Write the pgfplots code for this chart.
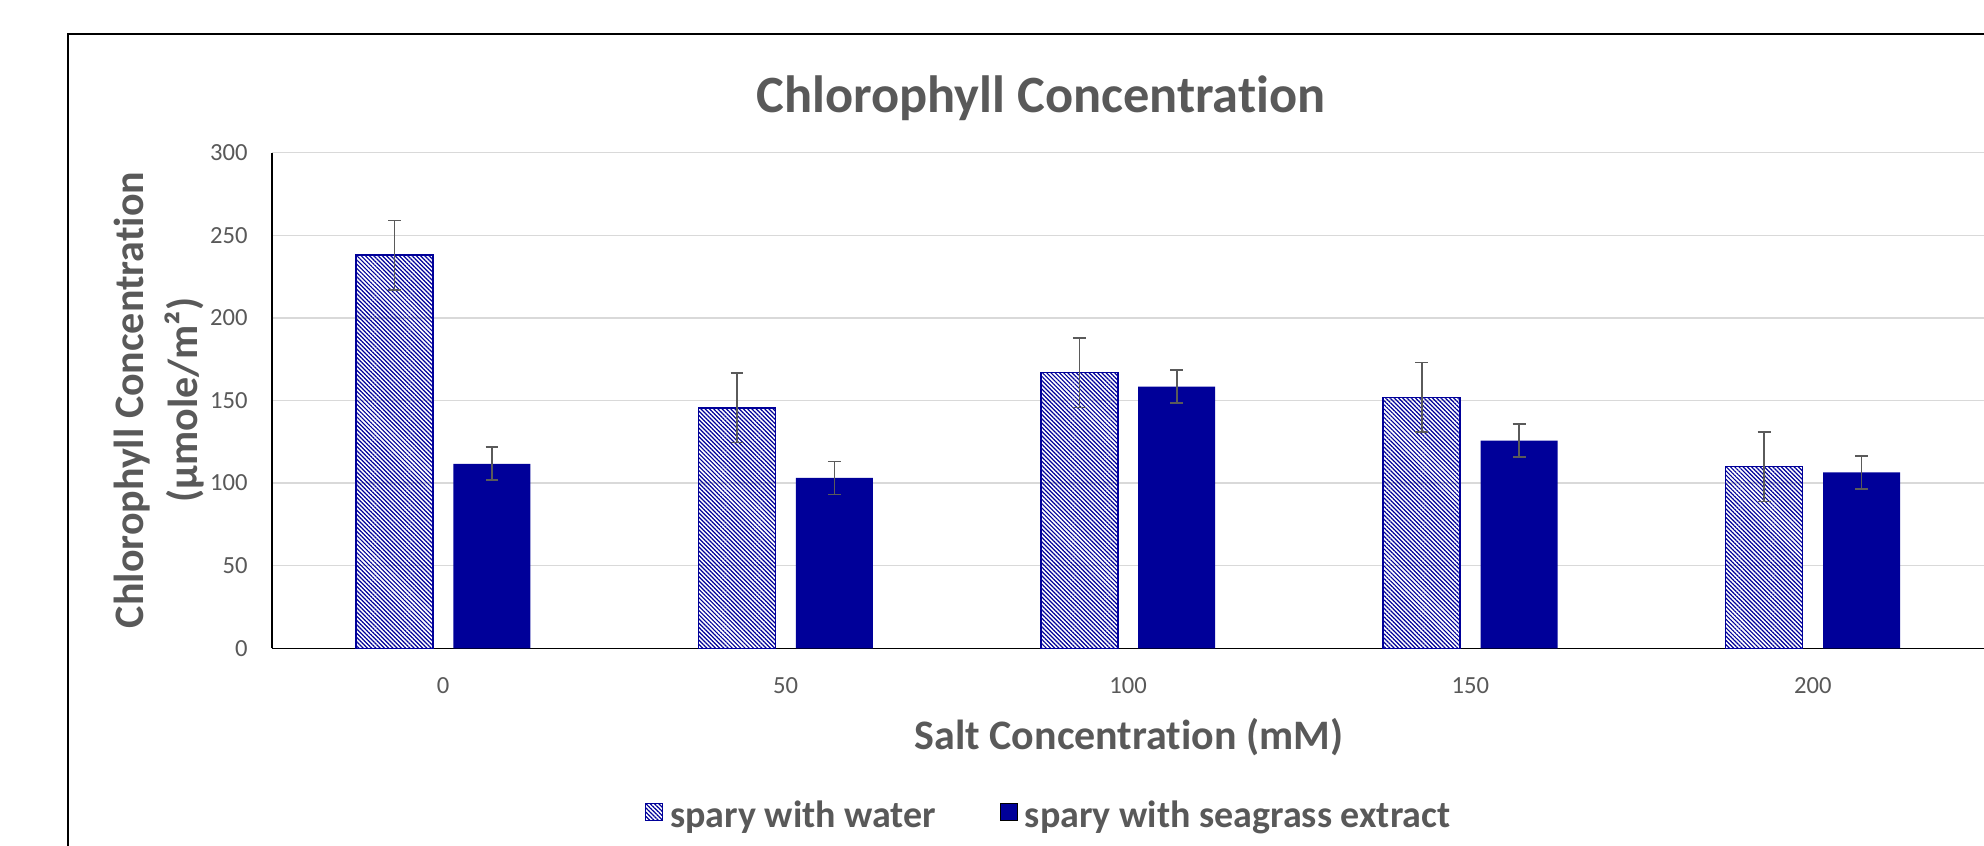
\documentclass[border=0pt]{standalone}
\usepackage{fontspec}
\setmainfont{Carlito}[Ligatures=NoCommon]
\usepackage{pgfplots}
\pgfplotsset{compat=1.18}
\usepackage{pgfplotstable}
\usetikzlibrary{patterns.meta}
\definecolor{textgray}{HTML}{595959}
\definecolor{gridgray}{HTML}{D9D9D9}
\definecolor{barblue}{HTML}{000099}
\definecolor{errgray}{HTML}{5A5A5A}

\pgfplotstableread{
x water werr sea serr
0 238.0 21 111.7 10
1 145.6 21 103.1 10
2 166.8 21 158.4 10
3 151.9 21 125.7 10
4 109.9 21 106.5 10
}\datatable

\begin{document}
\begin{tikzpicture}
\useasboundingbox (0,0) rectangle (992pt,422.5pt);
\clip (0,0) rectangle (992pt,422.5pt);
% outer chart frame (left and top edges visible)
\draw[line width=0.67pt, black] (34pt,-2pt) -- (34pt,405.5pt) -- (1000pt,405.5pt);
\begin{axis}[
  at={(136pt,98.35pt)}, anchor=south west,
  scale only axis, width=856pt, height=247.8pt,
  ybar, bar width=38.5pt,
  xmin=-0.5, xmax=4.5, ymin=0, ymax=300,
  xtick={0,1,2,3,4}, xticklabels={0,50,100,150,200},
  ytick={0,50,100,150,200,250,300},
  axis x line*=bottom, axis y line*=left,
  axis line style={line width=0.65pt, black},
  major tick length=0pt,
  ymajorgrids, grid style={line width=0.7pt, gridgray},
  /pgf/number format/assume math mode=true,
  tick label style={font=\fontsize{12.3}{14}\selectfont, text=textgray},
  xticklabel style={anchor=north, inner sep=0pt, yshift=-14.6pt},
  yticklabel style={anchor=east, inner sep=0pt, xshift=-12pt},
  legend columns=2,
  legend style={at={(axis description cs:0.453,-0.338)}, anchor=center,
    draw=none, fill=none, font=\bfseries\fontsize{19}{22}\selectfont, text=textgray,
    /tikz/every odd column/.append style={column sep=3.5pt},
    /tikz/every even column/.append style={column sep=32pt},
    nodes={inner sep=0pt}},
  legend image code/.code={\draw[#1] (0pt,-2.3pt) rectangle (8.5pt,6.2pt);},
  error bars/y dir=both, error bars/y explicit,
  error bars/error bar style={line width=0.8pt, errgray},
  error bars/error mark options={rotate=90, mark size=3.2pt, line width=0.8pt, errgray},
]
\addplot[bar shift=-24.35pt, draw=barblue, line width=0.75pt,
  pattern={Lines[angle=-45,distance=1.5pt,line width=0.6pt]}, pattern color=barblue]
  table[x=x, y=water, y error=werr] {\datatable};
\addlegendentry{spary with water}
\addplot[bar shift=24.35pt, draw=none, fill=barblue]
  table[x=x, y=sea, y error=serr] {\datatable};
\addlegendentry{spary with seagrass extract}
\end{axis}
\node[anchor=base, font=\bfseries\fontsize{26.2}{30}\selectfont, text=textgray] at (520.5pt,366pt) {Chlorophyll Concentration};
\node[anchor=base, rotate=90, font=\bfseries\fontsize{21}{25}\selectfont, text=textgray] at (71.5pt,222.5pt) {Chlorophyll Concentration};
\node[anchor=base, rotate=90, font=\bfseries\fontsize{21}{25}\selectfont, text=textgray] at (98.5pt,222.5pt) {(µmole/m²)};
\node[anchor=base, font=\bfseries\fontsize{21}{25}\selectfont, text=textgray] at (564.5pt,47.5pt) {Salt Concentration (mM)};
\end{tikzpicture}
\end{document}
